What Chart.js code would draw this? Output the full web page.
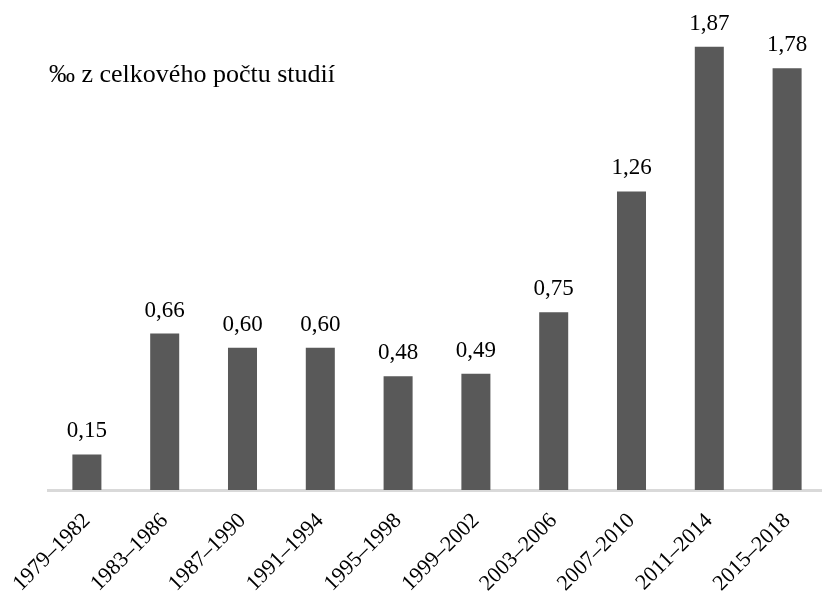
<!DOCTYPE html>
<html>
<head>
<meta charset="utf-8">
<script src="https://cdn.jsdelivr.net/npm/chart.js@4/dist/chart.umd.min.js"></script>
<style>
  html, body { margin: 0; padding: 0; background: #fff; overflow: hidden; width: 822px; height: 592px; }
  #wrap { position: relative; width: 830px; height: 592px; }
</style>
</head>
<body>
<div id="wrap"><canvas id="c" width="830" height="592"></canvas></div>
<script>
const categories = ["1979–1982","1983–1986","1987–1990","1991–1994","1995–1998","1999–2002","2003–2006","2007–2010","2011–2014","2015–2018"];
const values = [0.15, 0.66, 0.60, 0.60, 0.48, 0.49, 0.75, 1.26, 1.87, 1.78];
const valueLabels = ["0,15","0,66","0,60","0,60","0,48","0,49","0,75","1,26","1,87","1,78"];
const titleText = "‰ z celkového počtu studií";

const FONT = '"Liberation Serif", "Times New Roman", serif';

const labelPlugin = {
  id: 'valueLabels',
  afterDatasetsDraw(chart) {
    const ctx = chart.ctx;
    const meta = chart.getDatasetMeta(0);
    ctx.save();
    ctx.font = '23px ' + FONT;
    ctx.fillStyle = '#000';
    ctx.textAlign = 'center';
    ctx.textBaseline = 'alphabetic';
    meta.data.forEach((bar, i) => {
      ctx.fillText(valueLabels[i], bar.x, bar.y - 17);
    });
    ctx.restore();
  },
  afterDraw(chart) {
    const ctx = chart.ctx;
    ctx.save();
    ctx.font = '26px ' + FONT;
    ctx.fillStyle = '#000';
    ctx.textAlign = 'left';
    ctx.textBaseline = 'alphabetic';
    ctx.fillText(titleText, 49, 82);
    ctx.restore();
  }
};

new Chart(document.getElementById('c'), {
  type: 'bar',
  data: {
    labels: categories,
    datasets: [{
      data: values,
      backgroundColor: '#595959',
      borderWidth: 0,
      categoryPercentage: 1,
      barPercentage: 0.373
    }]
  },
  options: {
    responsive: false,
    animation: false,
    devicePixelRatio: 1,
    layout: { padding: { top: 16, left: 48, right: 4, bottom: 0 } },
    plugins: { legend: { display: false }, tooltip: { enabled: false }, title: { display: false } },
    scales: {
      x: {
        grid: { display: false, drawTicks: false },
        border: { display: true, color: '#d9d9d9', width: 3 },
        ticks: {
          color: '#000',
          font: { family: FONT, size: 22 },
          minRotation: 45,
          maxRotation: 45,
          padding: 18
        },
        afterFit(scale) {
          scale.height = 102;
          scale.paddingLeft = 0;
          scale.paddingRight = 0;
        }
      },
      y: {
        display: false,
        min: 0,
        max: 2
      }
    }
  },
  plugins: [labelPlugin]
});
</script>
</body>
</html>
